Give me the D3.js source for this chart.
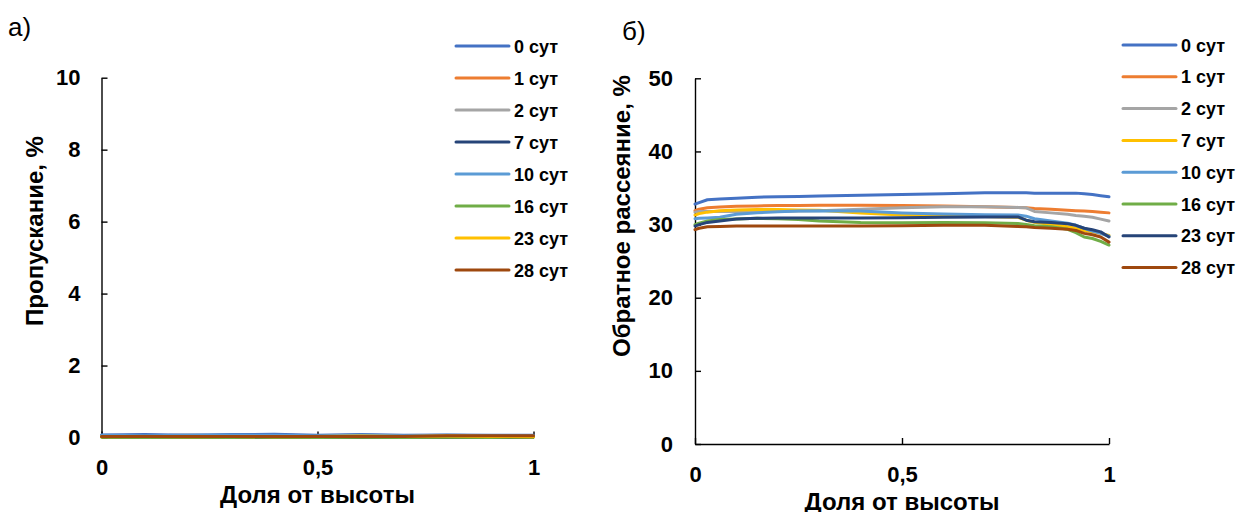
<!DOCTYPE html>
<html>
<head>
<meta charset="utf-8">
<script src="https://cdn.jsdelivr.net/npm/d3@7"></script>
<style>
  body { margin: 0; background: #fff; }
  text { font-family: "Liberation Sans", Arial, sans-serif; }
</style>
</head>
<body>
<div id="chart"></div>
<script>
//data
var seriesNames = ["0 сут", "1 сут", "2 сут", "7 сут", "10 сут", "16 сут", "23 сут", "28 сут"];
var xTicks = [0, 0.5, 1];

// a) transmission
var xTrans = [0, 0.1, 0.2, 0.3, 0.4, 0.5, 0.6, 0.7, 0.8, 0.9, 1];
var trans0  = [0.07, 0.08, 0.06, 0.08, 0.09, 0.06, 0.08, 0.06, 0.07, 0.06, 0.06];
var trans1  = [0.04, 0.04, 0.05, 0.04, 0.04, 0.05, 0.04, 0.05, 0.04, 0.05, 0.04];
var trans2  = [0.03, 0.04, 0.03, 0.04, 0.03, 0.04, 0.03, 0.03, 0.04, 0.03, 0.03];
var trans7  = [0.05, 0.05, 0.06, 0.05, 0.05, 0.05, 0.05, 0.04, 0.05, 0.05, 0.05];
var trans10 = [0.06, 0.05, 0.06, 0.07, 0.06, 0.05, 0.06, 0.05, 0.06, 0.05, 0.05];
var trans16 = [0.01, 0.00, 0.01, 0.00, 0.01, 0.00, 0.01, 0.00, 0.01, 0.00, 0.01];
var trans23 = [0.02, 0.03, 0.02, 0.03, 0.02, 0.03, 0.04, 0.03, 0.04, 0.03, 0.02];
var trans28 = [0.03, 0.03, 0.03, 0.03, 0.03, 0.03, 0.03, 0.03, 0.05, 0.05, 0.05];
var transTicks = [0, 2, 4, 6, 8, 10];

// б) backscattering
var xBack = [0, 0.01, 0.03, 0.06, 0.1, 0.15, 0.2, 0.25, 0.3, 0.4, 0.5, 0.6, 0.7, 0.78, 0.8, 0.82, 0.86, 0.9, 0.92, 0.94, 0.96, 0.98, 1];
var back0  = [32.8, 33.0, 33.4, 33.5, 33.6, 33.75, 33.8, 33.85, 33.9, 34.0, 34.1, 34.2, 34.35, 34.35, 34.35, 34.3, 34.3, 34.3, 34.3, 34.2, 34.1, 33.95, 33.8];
var back1  = [31.9, 32.1, 32.3, 32.4, 32.5, 32.55, 32.6, 32.6, 32.65, 32.65, 32.6, 32.55, 32.45, 32.35, 32.3, 32.2, 32.1, 31.95, 31.9, 31.85, 31.8, 31.7, 31.6];
var back2  = [31.7, 31.8, 31.8, 31.8, 31.8, 31.8, 31.8, 31.85, 31.9, 32.1, 32.3, 32.45, 32.45, 32.35, 32.3, 31.8, 31.6, 31.4, 31.25, 31.15, 31.0, 30.75, 30.5];
var back7  = [31.3, 31.5, 31.7, 31.9, 32.0, 32.05, 32.05, 32.0, 31.95, 31.6, 31.3, 31.2, 31.1, 31.0, 30.6, 30.3, 30.0, 29.7, 29.5, 29.2, 29.0, 28.8, 28.5];
var back10 = [30.8, 30.85, 30.9, 31.0, 31.4, 31.6, 31.75, 31.85, 31.9, 31.85, 31.6, 31.45, 31.35, 31.3, 31.15, 30.8, 30.5, 30.2, 29.9, 29.5, 29.1, 28.8, 28.4];
var back16 = [30.0, 30.2, 30.5, 30.7, 30.75, 30.85, 30.8, 30.7, 30.5, 30.3, 30.25, 30.3, 30.25, 30.15, 30.0, 29.85, 29.7, 29.35, 28.9, 28.3, 28.1, 27.7, 27.2];
var back23 = [29.8, 30.0, 30.3, 30.5, 30.75, 30.85, 30.9, 30.9, 30.9, 30.9, 30.95, 31.0, 31.05, 31.05, 30.6, 30.4, 30.3, 30.1, 29.9, 29.5, 29.3, 29.0, 28.3];
var back28 = [29.3, 29.5, 29.7, 29.75, 29.8, 29.8, 29.8, 29.8, 29.8, 29.8, 29.85, 29.9, 29.9, 29.75, 29.7, 29.6, 29.5, 29.35, 29.2, 28.8, 28.6, 28.3, 27.6];
var backTicks = [0, 10, 20, 30, 40, 50];

// excel palette, order differs between the two panels
var colorsTrans = ["#4472C4", "#ED7D31", "#A5A5A5", "#264478", "#5B9BD5", "#70AD47", "#FFC000", "#9E480E"];
var colorsBack  = ["#4472C4", "#ED7D31", "#A5A5A5", "#FFC000", "#5B9BD5", "#70AD47", "#264478", "#9E480E"];

var svg = d3.select("#chart")
    .append("svg")
    .attr("width", 1236)
    .attr("height", 512);

var fmt = function(d) { return String(d).replace(".", ","); };

function make_panel(cfg) {

    var x = d3.scaleLinear().domain([0, 1]).range([cfg.left, cfg.right]);
    var y = d3.scaleLinear().domain([cfg.ticks[0], cfg.ticks[cfg.ticks.length - 1]]).range([cfg.bottom, cfg.top]);

    var xAxis = svg.append("g")
        .attr("transform", "translate(0," + cfg.bottom + ")")
        .call(d3.axisBottom(x).tickValues(xTicks).tickFormat(fmt)
            .tickSizeInner(-6).tickSizeOuter(0).tickPadding(cfg.xPad));

    var yAxis = svg.append("g")
        .attr("transform", "translate(" + cfg.left + ",0)")
        .call(d3.axisLeft(y).tickValues(cfg.ticks)
            .tickSizeInner(-6).tickSizeOuter(0).tickPadding(cfg.yPad));

    [xAxis, yAxis].forEach(function(a) {
        a.selectAll("path, line").attr("stroke", "#000").attr("stroke-width", 1.4);
        a.selectAll("text")
            .attr("fill", "#000")
            .style("font-size", "22px")
            .style("font-weight", "bold")
            .style("font-family", "'Liberation Sans', Arial, sans-serif");
    });

    var line = d3.line()
        .x(function(d) { return x(d[0]); })
        .y(function(d) { return y(d[1]); });

    cfg.values.forEach(function(vals, i) {
        svg.append("path")
            .datum(cfg.xs.map(function(v, j) { return [v, vals[j]]; }))
            .attr("d", line)
            .attr("fill", "none")
            .attr("stroke", cfg.colors[i])
            .attr("stroke-width", 3)
            .attr("stroke-linejoin", "round")
            .attr("stroke-linecap", "round");
    });

    // axis titles
    svg.append("text")
        .attr("x", (cfg.left + cfg.right) / 2)
        .attr("y", cfg.xTitleY)
        .attr("text-anchor", "middle")
        .style("font-size", "24px")
        .style("font-weight", "bold")
        .text("Доля от высоты");

    svg.append("text")
        .attr("transform", "translate(" + cfg.yTitleX + "," + cfg.yTitleMid + ") rotate(-90)")
        .attr("text-anchor", "middle")
        .style("font-size", "24px")
        .style("font-weight", "bold")
        .text(cfg.yTitle);

    // legend
    var leg = svg.append("g")
        .selectAll("g")
        .data(seriesNames)
        .enter()
        .append("g")
        .attr("transform", function(d, i) { return "translate(" + cfg.legX + "," + (cfg.legY + i * cfg.legStep) + ")"; });

    leg.append("line")
        .attr("x1", 0).attr("x2", 53)
        .attr("stroke", function(d, i) { return cfg.colors[i]; })
        .attr("stroke-width", 3)
        .attr("stroke-linecap", "round");

    leg.append("text")
        .attr("x", 58)
        .attr("y", 6.5)
        .style("font-size", "18px")
        .style("font-weight", "bold")
        .text(function(d) { return d; });

    svg.append("text")
        .attr("x", cfg.tagX)
        .attr("y", cfg.tagY)
        .style("font-size", "26px")
        .text(cfg.tag);
}

make_panel({
    left: 101.5, right: 533.5, top: 77.7, bottom: 437.5,
    ticks: transTicks, xs: xTrans,
    values: [trans0, trans1, trans2, trans7, trans10, trans16, trans23, trans28],
    colors: colorsTrans,
    xPad: 22, yPad: 21,
    xTitleY: 503, yTitleX: 43, yTitleMid: 231,
    yTitle: "Пропускание, %",
    legX: 456, legY: 46, legStep: 32,
    tag: "а)", tagX: 8, tagY: 36
});

make_panel({
    left: 695, right: 1109, top: 78.3, bottom: 444,
    ticks: backTicks, xs: xBack,
    values: [back0, back1, back2, back7, back10, back16, back23, back28],
    colors: colorsBack,
    xPad: 22, yPad: 22,
    xTitleY: 510, yTitleX: 630, yTitleMid: 216,
    yTitle: "Обратное рассеяние, %",
    legX: 1123, legY: 45, legStep: 31.8,
    tag: "б)", tagX: 622, tagY: 40
});
</script>
</body>
</html>
